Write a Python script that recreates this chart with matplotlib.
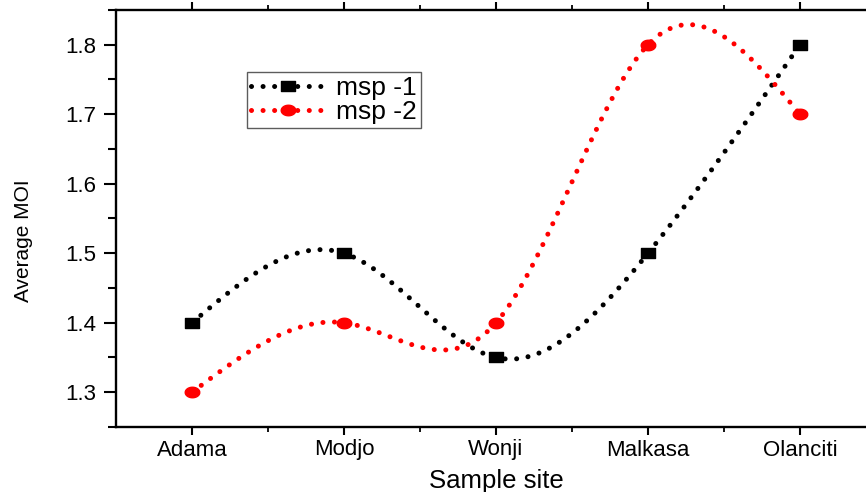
import numpy as np
import matplotlib
matplotlib.use("Agg")
import matplotlib.pyplot as plt
from matplotlib.path import Path

plt.rcParams['font.family'] = ['Liberation Sans', 'DejaVu Sans']

# Data
sites = ["Adama", "Modjo", "Wonji", "Malkasa", "Olanciti"]
msp1 = [1.40, 1.50, 1.35, 1.50, 1.80]
msp2 = [1.30, 1.40, 1.40, 1.80, 1.70]


def natural_spline(y, n=400):
    # natural cubic spline through equally spaced points (h = 1)
    y = np.asarray(y, dtype=float)
    k = len(y)
    A = np.zeros((k, k))
    b = np.zeros(k)
    A[0, 0] = A[-1, -1] = 1.0
    for i in range(1, k - 1):
        A[i, i - 1], A[i, i], A[i, i + 1] = 1.0, 4.0, 1.0
        b[i] = 6.0 * (y[i + 1] - 2 * y[i] + y[i - 1])
    M = np.linalg.solve(A, b)
    xs = np.linspace(0, k - 1, n)
    idx = np.clip(np.floor(xs).astype(int), 0, k - 2)
    t = xs - idx
    ys = (M[idx] * (1 - t) ** 3 / 6 + M[idx + 1] * t ** 3 / 6
          + (y[idx] - M[idx] / 6) * (1 - t) + (y[idx + 1] - M[idx + 1] / 6) * t)
    return xs, ys


# wide markers (the original picture is stretched sideways)
sq = Path([(-0.72, -0.5), (0.72, -0.5), (0.72, 0.5), (-0.72, 0.5), (-0.72, -0.5)],
          [Path.MOVETO, Path.LINETO, Path.LINETO, Path.LINETO, Path.CLOSEPOLY])
th = np.linspace(0, 2 * np.pi, 40)
ell = Path(np.column_stack([0.72 * np.cos(th), 0.52 * np.sin(th)]))

fig = plt.figure(figsize=(8.66, 4.92), dpi=100)
ax = fig.add_axes([116 / 866, 65 / 492, 760 / 866, 417 / 492])

x = np.arange(len(sites))
lw = 3.6
dots = (0, (0.01, 2.3))
for vals, col, mk, ms, lab in [(msp1, "black", sq, 10, "msp -1"),
                               (msp2, "red", ell, 10.5, "msp -2")]:
    xs, ys = natural_spline(vals)
    ax.plot(xs, ys, color=col, lw=lw, linestyle=dots, dash_capstyle="round")
    ax.plot(x, vals, linestyle="none", marker=mk, ms=ms, color=col, mec=col)
    # legend proxy
    ax.plot([], [], color=col, lw=lw, linestyle=dots, dash_capstyle="round",
            marker=mk, ms=ms, mec=col, label=lab)

ax.set_xlim(-0.5, 4.5)
ax.set_ylim(1.25, 1.85)
ax.set_xticks(x)
ax.set_xticklabels(sites)
ax.set_xticks(x[:-1] + 0.5, minor=True)
ax.set_yticks([1.3, 1.4, 1.5, 1.6, 1.7, 1.8])
ax.set_yticks(np.arange(1.25, 1.86, 0.05), minor=True)
ax.yaxis.set_major_formatter(matplotlib.ticker.FormatStrFormatter("%.1f"))

for s in ax.spines.values():
    s.set_linewidth(1.7)
ax.spines["right"].set_visible(False)

ax.tick_params(axis="y", which="major", direction="out", length=9, width=1.5,
               labelsize=16, pad=5)
ax.tick_params(axis="y", which="minor", direction="out", length=5.5, width=1.5)
ax.tick_params(axis="x", which="major", direction="out", length=6, width=1.5,
               labelsize=16, pad=3, top=True)
ax.tick_params(axis="x", which="minor", direction="out", length=3.5, width=1.3, top=True)

ax.set_xlabel("Sample site", fontsize=18.5, labelpad=6)
ax.set_ylabel("Average MOI", fontsize=15)
ax.yaxis.set_label_coords(-0.109, 0.446)

leg = ax.legend(loc="upper left", bbox_to_anchor=(0.172, 0.851), borderaxespad=0,
                fontsize=19, frameon=True, fancybox=False, handlelength=2.85,
                handletextpad=0.38, labelspacing=0.0, borderpad=0.15, numpoints=1)
leg.get_frame().set_edgecolor("#333333")
leg.get_frame().set_linewidth(1.0)

fig.savefig("out.png", dpi=100)
